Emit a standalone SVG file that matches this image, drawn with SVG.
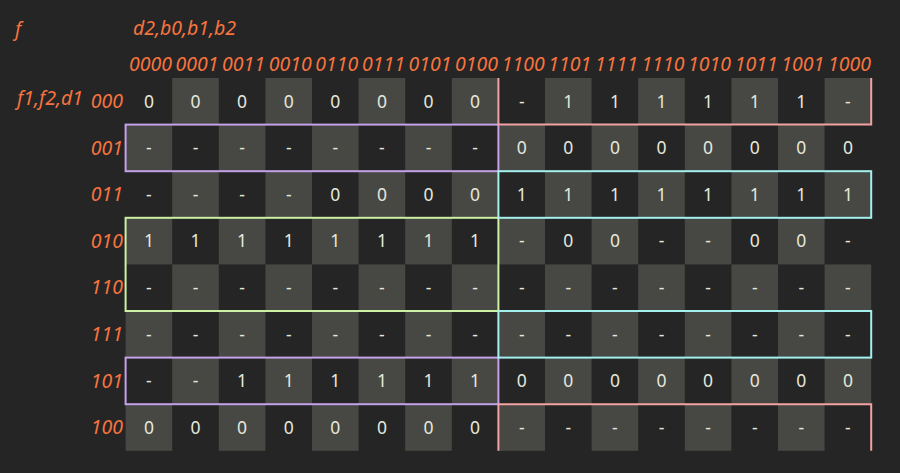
<svg xmlns="http://www.w3.org/2000/svg" width="900" height="473" viewBox="0 0 900 473">
<style>
.bg{fill:#252525}
.lt{fill:#474743}
.hd{font-family:"Noto Sans","Open Sans",sans-serif;font-style:italic;font-size:19.5px;fill:#f7743f}
.ch{text-anchor:middle}
.rh{text-anchor:end}
.v{font-family:"Noto Sans","Open Sans",sans-serif;font-size:17.5px;fill:#e4e8dc;text-anchor:middle}
.g{fill:none;stroke-width:2}
.pu{stroke:#c3a2e8}
.pk{stroke:#f2a2a2}
.cy{stroke:#a4f0ee}
.gr{stroke:#cdf0a4}
</style>
<rect class="bg" x="0" y="0" width="900" height="473"/>
<g id="titles">
<text class="hd" x="15" y="36">f</text>
<text class="hd" x="133" y="35">d2,b0,b1,b2</text>
<text class="hd" x="17" y="105">f1,f2,d1</text>
</g>
<g id="col-headers">
<text class="hd ch" x="150.4" y="70.7">0000</text>
<text class="hd ch" x="197" y="70.7">0001</text>
<text class="hd ch" x="243.6" y="70.7">0011</text>
<text class="hd ch" x="290.2" y="70.7">0010</text>
<text class="hd ch" x="336.8" y="70.7">0110</text>
<text class="hd ch" x="383.4" y="70.7">0111</text>
<text class="hd ch" x="430" y="70.7">0101</text>
<text class="hd ch" x="476.6" y="70.7">0100</text>
<text class="hd ch" x="523.2" y="70.7">1100</text>
<text class="hd ch" x="569.8" y="70.7">1101</text>
<text class="hd ch" x="616.4" y="70.7">1111</text>
<text class="hd ch" x="663" y="70.7">1110</text>
<text class="hd ch" x="709.6" y="70.7">1010</text>
<text class="hd ch" x="756.2" y="70.7">1011</text>
<text class="hd ch" x="802.8" y="70.7">1001</text>
<text class="hd ch" x="849.4" y="70.7">1000</text>
</g>
<g id="row-headers">
<text class="hd rh" x="123" y="108">000</text>
<text class="hd rh" x="123" y="154.6">001</text>
<text class="hd rh" x="123" y="201.2">011</text>
<text class="hd rh" x="123" y="247.8">010</text>
<text class="hd rh" x="123" y="294.4">110</text>
<text class="hd rh" x="123" y="341">111</text>
<text class="hd rh" x="123" y="387.6">101</text>
<text class="hd rh" x="123" y="434.2">100</text>
</g>
<g id="cells">
<g id="row-000">
<rect class="lt" x="172.2" y="78" width="46.6" height="46.6"/><rect class="lt" x="265.4" y="78" width="46.6" height="46.6"/><rect class="lt" x="358.6" y="78" width="46.6" height="46.6"/><rect class="lt" x="451.8" y="78" width="46.6" height="46.6"/><rect class="lt" x="545" y="78" width="46.6" height="46.6"/><rect class="lt" x="638.2" y="78" width="46.6" height="46.6"/><rect class="lt" x="731.4" y="78" width="46.6" height="46.6"/><rect class="lt" x="824.6" y="78" width="46.6" height="46.6"/>
<text class="v" y="107.5"><tspan x="148.9">0</tspan><tspan x="195.5">0</tspan><tspan x="242.1">0</tspan><tspan x="288.7">0</tspan><tspan x="335.3">0</tspan><tspan x="381.9">0</tspan><tspan x="428.5">0</tspan><tspan x="475.1">0</tspan><tspan x="521.7">-</tspan><tspan x="568.3">1</tspan><tspan x="614.9">1</tspan><tspan x="661.5">1</tspan><tspan x="708.1">1</tspan><tspan x="754.7">1</tspan><tspan x="801.3">1</tspan><tspan x="847.9">-</tspan></text>
</g>
<g id="row-001">
<rect class="lt" x="125.6" y="124.6" width="46.6" height="46.6"/><rect class="lt" x="218.8" y="124.6" width="46.6" height="46.6"/><rect class="lt" x="312" y="124.6" width="46.6" height="46.6"/><rect class="lt" x="405.2" y="124.6" width="46.6" height="46.6"/><rect class="lt" x="498.4" y="124.6" width="46.6" height="46.6"/><rect class="lt" x="591.6" y="124.6" width="46.6" height="46.6"/><rect class="lt" x="684.8" y="124.6" width="46.6" height="46.6"/><rect class="lt" x="778" y="124.6" width="46.6" height="46.6"/>
<text class="v" y="154.1"><tspan x="148.9">-</tspan><tspan x="195.5">-</tspan><tspan x="242.1">-</tspan><tspan x="288.7">-</tspan><tspan x="335.3">-</tspan><tspan x="381.9">-</tspan><tspan x="428.5">-</tspan><tspan x="475.1">-</tspan><tspan x="521.7">0</tspan><tspan x="568.3">0</tspan><tspan x="614.9">0</tspan><tspan x="661.5">0</tspan><tspan x="708.1">0</tspan><tspan x="754.7">0</tspan><tspan x="801.3">0</tspan><tspan x="847.9">0</tspan></text>
</g>
<g id="row-011">
<rect class="lt" x="172.2" y="171.2" width="46.6" height="46.6"/><rect class="lt" x="265.4" y="171.2" width="46.6" height="46.6"/><rect class="lt" x="358.6" y="171.2" width="46.6" height="46.6"/><rect class="lt" x="451.8" y="171.2" width="46.6" height="46.6"/><rect class="lt" x="545" y="171.2" width="46.6" height="46.6"/><rect class="lt" x="638.2" y="171.2" width="46.6" height="46.6"/><rect class="lt" x="731.4" y="171.2" width="46.6" height="46.6"/><rect class="lt" x="824.6" y="171.2" width="46.6" height="46.6"/>
<text class="v" y="200.7"><tspan x="148.9">-</tspan><tspan x="195.5">-</tspan><tspan x="242.1">-</tspan><tspan x="288.7">-</tspan><tspan x="335.3">0</tspan><tspan x="381.9">0</tspan><tspan x="428.5">0</tspan><tspan x="475.1">0</tspan><tspan x="521.7">1</tspan><tspan x="568.3">1</tspan><tspan x="614.9">1</tspan><tspan x="661.5">1</tspan><tspan x="708.1">1</tspan><tspan x="754.7">1</tspan><tspan x="801.3">1</tspan><tspan x="847.9">1</tspan></text>
</g>
<g id="row-010">
<rect class="lt" x="125.6" y="217.8" width="46.6" height="46.6"/><rect class="lt" x="218.8" y="217.8" width="46.6" height="46.6"/><rect class="lt" x="312" y="217.8" width="46.6" height="46.6"/><rect class="lt" x="405.2" y="217.8" width="46.6" height="46.6"/><rect class="lt" x="498.4" y="217.8" width="46.6" height="46.6"/><rect class="lt" x="591.6" y="217.8" width="46.6" height="46.6"/><rect class="lt" x="684.8" y="217.8" width="46.6" height="46.6"/><rect class="lt" x="778" y="217.8" width="46.6" height="46.6"/>
<text class="v" y="247.3"><tspan x="148.9">1</tspan><tspan x="195.5">1</tspan><tspan x="242.1">1</tspan><tspan x="288.7">1</tspan><tspan x="335.3">1</tspan><tspan x="381.9">1</tspan><tspan x="428.5">1</tspan><tspan x="475.1">1</tspan><tspan x="521.7">-</tspan><tspan x="568.3">0</tspan><tspan x="614.9">0</tspan><tspan x="661.5">-</tspan><tspan x="708.1">-</tspan><tspan x="754.7">0</tspan><tspan x="801.3">0</tspan><tspan x="847.9">-</tspan></text>
</g>
<g id="row-110">
<rect class="lt" x="172.2" y="264.4" width="46.6" height="46.6"/><rect class="lt" x="265.4" y="264.4" width="46.6" height="46.6"/><rect class="lt" x="358.6" y="264.4" width="46.6" height="46.6"/><rect class="lt" x="451.8" y="264.4" width="46.6" height="46.6"/><rect class="lt" x="545" y="264.4" width="46.6" height="46.6"/><rect class="lt" x="638.2" y="264.4" width="46.6" height="46.6"/><rect class="lt" x="731.4" y="264.4" width="46.6" height="46.6"/><rect class="lt" x="824.6" y="264.4" width="46.6" height="46.6"/>
<text class="v" y="293.9"><tspan x="148.9">-</tspan><tspan x="195.5">-</tspan><tspan x="242.1">-</tspan><tspan x="288.7">-</tspan><tspan x="335.3">-</tspan><tspan x="381.9">-</tspan><tspan x="428.5">-</tspan><tspan x="475.1">-</tspan><tspan x="521.7">-</tspan><tspan x="568.3">-</tspan><tspan x="614.9">-</tspan><tspan x="661.5">-</tspan><tspan x="708.1">-</tspan><tspan x="754.7">-</tspan><tspan x="801.3">-</tspan><tspan x="847.9">-</tspan></text>
</g>
<g id="row-111">
<rect class="lt" x="125.6" y="311" width="46.6" height="46.6"/><rect class="lt" x="218.8" y="311" width="46.6" height="46.6"/><rect class="lt" x="312" y="311" width="46.6" height="46.6"/><rect class="lt" x="405.2" y="311" width="46.6" height="46.6"/><rect class="lt" x="498.4" y="311" width="46.6" height="46.6"/><rect class="lt" x="591.6" y="311" width="46.6" height="46.6"/><rect class="lt" x="684.8" y="311" width="46.6" height="46.6"/><rect class="lt" x="778" y="311" width="46.6" height="46.6"/>
<text class="v" y="340.5"><tspan x="148.9">-</tspan><tspan x="195.5">-</tspan><tspan x="242.1">-</tspan><tspan x="288.7">-</tspan><tspan x="335.3">-</tspan><tspan x="381.9">-</tspan><tspan x="428.5">-</tspan><tspan x="475.1">-</tspan><tspan x="521.7">-</tspan><tspan x="568.3">-</tspan><tspan x="614.9">-</tspan><tspan x="661.5">-</tspan><tspan x="708.1">-</tspan><tspan x="754.7">-</tspan><tspan x="801.3">-</tspan><tspan x="847.9">-</tspan></text>
</g>
<g id="row-101">
<rect class="lt" x="172.2" y="357.6" width="46.6" height="46.6"/><rect class="lt" x="265.4" y="357.6" width="46.6" height="46.6"/><rect class="lt" x="358.6" y="357.6" width="46.6" height="46.6"/><rect class="lt" x="451.8" y="357.6" width="46.6" height="46.6"/><rect class="lt" x="545" y="357.6" width="46.6" height="46.6"/><rect class="lt" x="638.2" y="357.6" width="46.6" height="46.6"/><rect class="lt" x="731.4" y="357.6" width="46.6" height="46.6"/><rect class="lt" x="824.6" y="357.6" width="46.6" height="46.6"/>
<text class="v" y="387.1"><tspan x="148.9">-</tspan><tspan x="195.5">-</tspan><tspan x="242.1">1</tspan><tspan x="288.7">1</tspan><tspan x="335.3">1</tspan><tspan x="381.9">1</tspan><tspan x="428.5">1</tspan><tspan x="475.1">1</tspan><tspan x="521.7">0</tspan><tspan x="568.3">0</tspan><tspan x="614.9">0</tspan><tspan x="661.5">0</tspan><tspan x="708.1">0</tspan><tspan x="754.7">0</tspan><tspan x="801.3">0</tspan><tspan x="847.9">0</tspan></text>
</g>
<g id="row-100">
<rect class="lt" x="125.6" y="404.2" width="46.6" height="46.6"/><rect class="lt" x="218.8" y="404.2" width="46.6" height="46.6"/><rect class="lt" x="312" y="404.2" width="46.6" height="46.6"/><rect class="lt" x="405.2" y="404.2" width="46.6" height="46.6"/><rect class="lt" x="498.4" y="404.2" width="46.6" height="46.6"/><rect class="lt" x="591.6" y="404.2" width="46.6" height="46.6"/><rect class="lt" x="684.8" y="404.2" width="46.6" height="46.6"/><rect class="lt" x="778" y="404.2" width="46.6" height="46.6"/>
<text class="v" y="433.7"><tspan x="148.9">0</tspan><tspan x="195.5">0</tspan><tspan x="242.1">0</tspan><tspan x="288.7">0</tspan><tspan x="335.3">0</tspan><tspan x="381.9">0</tspan><tspan x="428.5">0</tspan><tspan x="475.1">0</tspan><tspan x="521.7">-</tspan><tspan x="568.3">-</tspan><tspan x="614.9">-</tspan><tspan x="661.5">-</tspan><tspan x="708.1">-</tspan><tspan x="754.7">-</tspan><tspan x="801.3">-</tspan><tspan x="847.9">-</tspan></text>
</g>
</g>
<g id="groups">
<rect id="grp-purple-001" class="g pu" x="125.6" y="124.6" width="372.8" height="46.6"/>
<rect id="grp-purple-101" class="g pu" x="125.6" y="357.6" width="372.8" height="46.6"/>
<rect id="grp-green" class="g gr" x="125.6" y="217.8" width="372.8" height="93.2"/>
<rect id="grp-cyan-011" class="g cy" x="498.4" y="171.2" width="372.8" height="46.6"/>
<rect id="grp-cyan-111" class="g cy" x="498.4" y="311" width="372.8" height="46.6"/>
<path id="grp-pink-top" class="g pk" d="M498.4 78V124.6H871.2V78"/>
<path id="grp-pink-bottom" class="g pk" d="M498.4 450.8V404.2H871.2V450.8"/>
</g>
</svg>
